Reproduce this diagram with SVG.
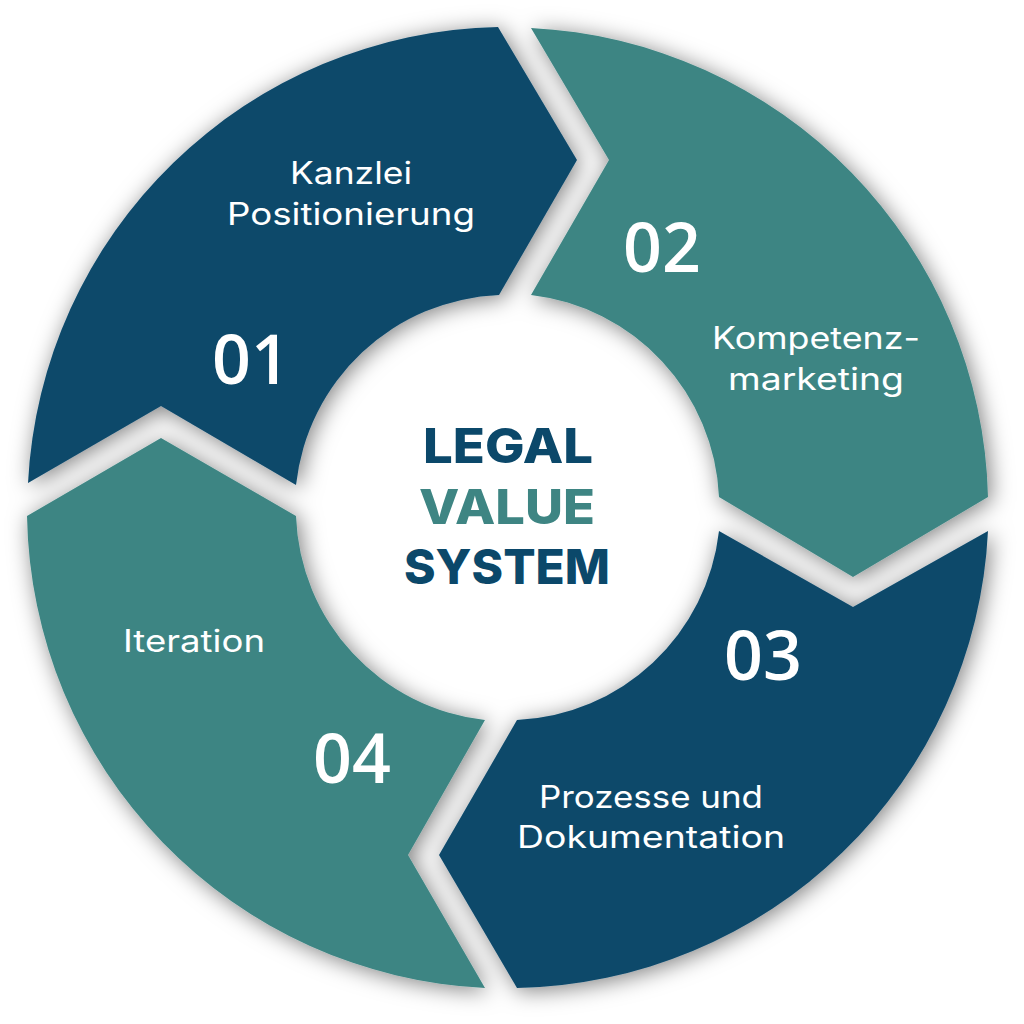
<svg xmlns="http://www.w3.org/2000/svg" width="1024" height="1024" viewBox="0 0 1024 1024">
<style>
.navy{fill:#0b486a}.teal{fill:#3e8583}
.num{font-family:"Open Sans",sans-serif;font-weight:650;font-size:68px;fill:#fff;text-anchor:middle}
.lab{font-family:Inter,"Noto Sans",sans-serif;font-weight:400;font-size:31px;fill:#fff;text-anchor:middle}
.title{font-family:Inter,"Noto Sans",sans-serif;font-weight:800;font-size:48px;text-anchor:middle}
</style>
<defs><filter id="sh" x="-10%" y="-10%" width="120%" height="120%"><feDropShadow dx="3" dy="3" stdDeviation="11" flood-color="#000" flood-opacity=".5"/></filter></defs>
<rect width="1024" height="1024" fill="#fff"/>
<g filter="url(#sh)">
<g id="seg1"><path class="navy" d="M498 27L577 160L499 295A213 213 0 0 0 296 485L161 406L28 483A481 481 0 0 1 498 27Z"/></g>
<g id="seg2"><path class="teal" d="M531 28L609 160L531 295A213 213 0 0 1 719 497L853 577L988 497A481 481 0 0 0 531 28Z"/></g>
<g id="seg3"><path class="navy" d="M988 531L853 607L719 531A213 213 0 0 1 517 720L439 855L517 988A481 481 0 0 0 988 531Z"/></g>
<g id="seg4"><path class="teal" d="M485 720L408 855L485 988A481 481 0 0 1 27 516L161 438L296 516A213 213 0 0 0 485 720Z"/></g>
</g>
<g id="label1"><text class="lab" x="351" y="184" textLength="122" lengthAdjust="spacingAndGlyphs">Kanzlei</text><text class="lab" x="351" y="225" textLength="248" lengthAdjust="spacingAndGlyphs">Positionierung</text><text class="num" x="251" y="384">01</text></g>
<g id="label2"><text class="num" x="662" y="272">02</text><text class="lab" x="816" y="349" textLength="208" lengthAdjust="spacingAndGlyphs">Kompetenz-</text><text class="lab" x="816" y="390" textLength="176" lengthAdjust="spacingAndGlyphs">marketing</text></g>
<g id="label3"><text class="num" x="763" y="680">03</text><text class="lab" x="651" y="808" textLength="224" lengthAdjust="spacingAndGlyphs">Prozesse und</text><text class="lab" x="651" y="848" textLength="268" lengthAdjust="spacingAndGlyphs">Dokumentation</text></g>
<g id="label4"><text class="lab" x="194" y="652" textLength="142" lengthAdjust="spacingAndGlyphs">Iteration</text><text class="num" x="352" y="783">04</text></g>
<g id="center"><text class="title navy" x="508" y="463" textLength="170" lengthAdjust="spacingAndGlyphs">LEGAL</text><text class="title teal" x="507" y="524" textLength="176" lengthAdjust="spacingAndGlyphs">VALUE</text><text class="title navy" x="507" y="584" textLength="206" lengthAdjust="spacingAndGlyphs">SYSTEM</text></g>
</svg>
